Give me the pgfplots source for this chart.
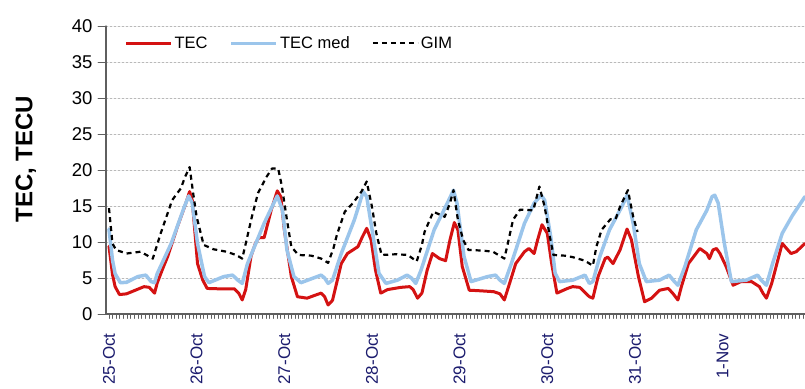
\documentclass[border=0pt]{standalone}
\usepackage{pgfplots}
\pgfplotsset{compat=1.18}
\usepackage{fontspec}
\setmainfont{Liberation Sans}
\definecolor{tecred}{RGB}{212,18,18}
\definecolor{tecblue}{RGB}{155,197,235}
\definecolor{navy}{RGB}{28,28,110}
\definecolor{axgray}{RGB}{95,95,95}
\definecolor{gridgray}{RGB}{185,185,185}

\begin{document}
\begin{tikzpicture}
\useasboundingbox (-106bp,-75bp) rectangle (699bp,314bp);
\begin{axis}[
  at={(0,0)}, anchor=south west,
  scale only axis, width=699bp, height=288bp,
  xmin=-0.034, xmax=7.94, ymin=0, ymax=40,
  axis lines*=left,
  axis line style={axgray, line width=1.1pt},
  /pgf/number format/assume math mode=true,
  ytick={0,5,...,40},
  ymajorgrids,
  grid style={gridgray, dash pattern=on 2bp off 2bp, line width=0.8bp},
  xtick={0,1,2,3,4,5,6,7},
  xticklabels={25-Oct,26-Oct,27-Oct,28-Oct,29-Oct,30-Oct,31-Oct,1-Nov},
  minor xtick={0,0.0416667,...,7.95},
  major x tick style={draw=none},
  tick align=outside,
  major tick length=8bp, minor tick length=4.5bp,
  tick style={axgray, line width=0.9pt},
  minor tick style={axgray, line width=0.9pt},
  yticklabel style={font=\fontsize{18.5bp}{20bp}\selectfont, black, xshift=-2bp},
  xticklabel style={font=\fontsize{17bp}{19bp}\selectfont, text=navy, yshift=-8bp, rotate=90, anchor=east},
  ylabel={TEC, TECU},
  ylabel style={font=\fontsize{24bp}{26bp}\selectfont\bfseries, at={(axis description cs:-0.1145,0.538)}, anchor=center},
  legend style={draw=none, fill=none, at={(axis description cs:0.022,0.94)}, anchor=west,
    font=\fontsize{16.5bp}{18bp}\selectfont, legend columns=3,
    /tikz/every even column/.append style={column sep=20bp}},
  legend image code/.code={\draw[#1] (0bp,0bp) -- (45bp,0bp);},
  line join=round, line cap=round,
]
\addplot[tecred, line width=3bp] coordinates {
(0.00,9.4)(0.04,5.5)(0.07,3.8)(0.12,2.7)(0.20,2.8)(0.30,3.3)(0.40,3.8)(0.46,3.7)(0.52,2.9)(0.55,4.3)
(0.61,6.2)(0.67,8.0)(0.78,12.1)(0.86,14.8)(0.92,17.0)(0.95,15.8)(1.01,7.0)(1.07,4.7)(1.12,3.55)(1.25,3.5)
(1.43,3.5)(1.48,2.9)(1.52,1.95)(1.56,3.4)(1.62,8.0)(1.67,9.8)(1.71,10.6)(1.77,10.6)(1.85,14.4)(1.92,17.1)
(1.96,16.3)(2.00,11.7)(2.08,5.2)(2.15,2.4)(2.26,2.2)(2.35,2.6)(2.42,2.9)(2.46,2.4)(2.50,1.25)(2.55,1.9)
(2.65,7.0)(2.72,8.4)(2.84,9.35)(2.89,10.7)(2.94,11.9)(2.99,10.3)(3.04,6.1)(3.10,2.9)(3.18,3.4)(3.33,3.7)
(3.43,3.8)(3.47,3.4)(3.52,2.2)(3.57,2.9)(3.63,6.1)(3.69,8.4)(3.77,7.7)(3.84,7.4)(3.89,10.3)(3.94,12.7)
(3.98,11.7)(4.03,6.6)(4.11,3.3)(4.20,3.25)(4.39,3.1)(4.46,2.8)(4.51,1.95)(4.57,4.25)(4.64,7.0)(4.74,8.65)
(4.79,9.1)(4.85,8.4)(4.89,10.3)(4.94,12.4)(5.00,11.2)(5.05,7.0)(5.11,2.9)(5.23,3.55)(5.29,3.8)(5.37,3.7)
(5.48,2.4)(5.52,2.2)(5.58,5.2)(5.66,7.7)(5.69,7.9)(5.75,7.0)(5.83,8.9)(5.91,11.8)(5.96,10.3)(6.04,5.2)
(6.11,1.7)(6.19,2.2)(6.28,3.3)(6.38,3.55)(6.43,2.9)(6.49,1.95)(6.53,3.8)(6.61,7.0)(6.74,9.1)(6.82,8.4)
(6.85,7.7)(6.89,8.9)(6.93,9.1)(6.97,8.4)(7.04,6.6)(7.12,4.0)(7.21,4.5)(7.33,4.5)(7.42,3.8)(7.46,2.9)
(7.50,2.2)(7.56,4.25)(7.68,9.8)(7.78,8.4)(7.84,8.65)(7.94,9.8)
};
\addlegendentry{TEC}
\addplot[tecblue, line width=3.5bp] coordinates {
(0.00,11.8)(0.04,7.5)(0.07,5.6)(0.13,4.35)(0.20,4.4)(0.33,5.2)(0.42,5.4)(0.48,4.5)(0.52,4.35)(0.55,5.6)
(0.71,9.8)(0.86,14.9)(0.91,16.4)(0.95,15.4)(1.01,9.8)(1.09,5.2)(1.14,4.35)(1.31,5.2)(1.41,5.4)(1.47,4.7)
(1.52,4.25)(1.58,7.0)(1.77,12.6)(1.86,14.9)(1.92,16.4)(1.98,14.4)(2.03,8.9)(2.11,5.2)(2.19,4.35)(2.42,5.4)
(2.46,5.0)(2.50,4.25)(2.55,4.7)(2.65,8.4)(2.80,13.1)(2.90,17.0)(2.94,16.3)(3.02,10.3)(3.08,5.65)(3.16,4.25)
(3.29,4.7)(3.40,5.4)(3.45,5.0)(3.50,4.25)(3.56,6.1)(3.71,11.7)(3.86,15.4)(3.93,17.2)(3.97,15.4)(4.05,8.0)
(4.13,4.5)(4.32,5.2)(4.41,5.4)(4.46,4.7)(4.51,4.25)(4.59,7.0)(4.74,12.6)(4.85,15.4)(4.93,16.5)(4.97,15.8)
(5.04,10.7)(5.09,5.65)(5.14,4.5)(5.29,4.7)(5.43,5.4)(5.48,4.25)(5.52,4.5)(5.60,8.0)(5.71,11.7)(5.85,14.9)
(5.91,16.5)(5.98,12.6)(6.05,7.0)(6.13,4.5)(6.28,4.7)(6.39,5.4)(6.45,4.5)(6.49,4.0)(6.57,6.6)(6.70,11.7)
(6.82,14.4)(6.88,16.3)(6.91,16.5)(6.95,15.4)(7.02,9.8)(7.10,4.5)(7.27,4.7)(7.40,5.4)(7.44,4.7)(7.50,4.0)
(7.57,7.0)(7.68,11.2)(7.80,13.75)(7.94,16.3)
};
\addlegendentry{TEC med}
\addplot[black, line width=2.2bp, dash pattern=on 5bp off 4bp, line cap=butt] coordinates {
(0.00,14.7)(0.04,9.8)(0.08,8.9)(0.20,8.4)(0.36,8.65)(0.50,7.7)(0.59,11.2)(0.72,15.8)(0.82,17.45)(0.87,19.1)
(0.92,20.4)(0.96,16.8)(1.00,13.5)(1.08,9.6)(1.19,9.0)(1.34,8.65)(1.45,8.2)(1.52,7.7)(1.57,10.3)(1.63,13.5)
(1.70,16.8)(1.80,19.1)(1.86,20.2)(1.93,20.2)(1.97,17.9)(2.03,13.1)(2.08,9.35)(2.16,8.2)(2.31,8.1)(2.42,7.7)
(2.50,7.1)(2.56,9.1)(2.60,11.0)(2.69,14.2)(2.79,15.5)(2.88,17.0)(2.94,18.4)(3.00,14.9)(3.05,11.2)(3.11,8.2)
(3.28,8.3)(3.41,8.2)(3.51,7.3)(3.57,9.6)(3.60,11.4)(3.70,14.2)(3.83,13.5)(3.89,15.4)(3.93,17.2)(3.98,13.1)
(4.04,10.3)(4.10,8.9)(4.27,8.8)(4.38,8.65)(4.51,7.7)(4.55,9.8)(4.61,13.1)(4.69,14.5)(4.84,14.4)(4.91,17.7)
(4.97,14.9)(5.03,10.7)(5.07,8.2)(5.20,8.1)(5.29,7.9)(5.43,7.4)(5.52,6.7)(5.56,9.35)(5.62,11.7)(5.72,13.15)
(5.78,13.2)(5.83,14.9)(5.92,17.2)(5.98,13.5)(6.03,11.4)
};
\addlegendentry{GIM}
\end{axis}
\end{tikzpicture}
\end{document}
